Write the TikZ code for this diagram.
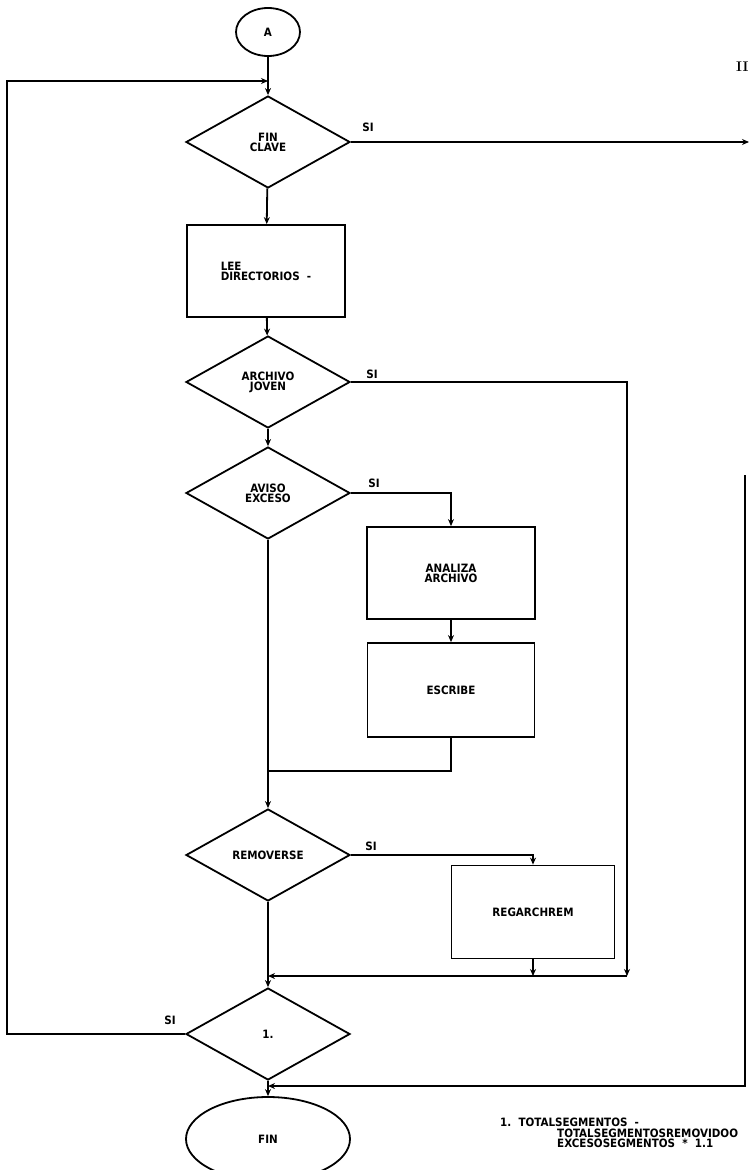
\documentclass[tikz,border=0pt]{standalone}
\usepackage{fontspec}
\newfontfamily\scanfamily{DejaVu Sans Condensed}
\newcommand{\scantext}{\scanfamily\bfseries\fontsize{11.5}{10}\selectfont}
\usetikzlibrary{arrows.meta,shapes.geometric}

\begin{document}
\begin{tikzpicture}[x=1pt,y=-1pt]
\tikzset{
  decision/.style={diamond,draw,line width=1.8pt,minimum width=164pt,minimum height=92pt,aspect=1.8,inner sep=1pt,font=\scantext,align=center},
  process/.style={rectangle,draw,line width=1.8pt,minimum height=92pt,font=\scantext,align=center},
  terminal/.style={ellipse,draw,line width=1.8pt,font=\scantext},
  flow/.style={-{Stealth[length=7pt,width=6pt]},line width=1.8pt},
  link/.style={line width=1.8pt},
  tag/.style={font=\scantext,inner sep=0pt}
}
\useasboundingbox (0,0) rectangle (750,1170);
\node[terminal,minimum width=64pt,minimum height=48pt] (a) at (268,32) {A};
\node[decision] (fc) at (268,142) {FIN\\CLAVE};
\node[process,minimum width=158pt,align=left] (lee) at (266,271) {LEE\\DIRECTORIOS\ \ -};
\node[decision] (aj) at (268,382) {ARCHIVO\\JOVEN};
\node[decision] (ae) at (268,493) {AVISO\\EXCESO};
\node[process,minimum width=168pt] (az) at (451,573) {ANALIZA\\ARCHIVO};
\node[process,minimum width=167pt,minimum height=94pt] (es) at (451,690) {ESCRIBE};
\node[decision] (rm) at (268,855) {REMOVERSE};
\node[process,minimum width=163pt,minimum height=93pt] (rg) at (533,912) {REGARCHREM};
\node[decision] (one) at (268,1034) {1.};
\node[terminal,minimum width=164pt,minimum height=84pt] (fin) at (268,1139) {FIN};
\node[font=\rmfamily\bfseries\fontsize{14}{14}\selectfont,anchor=west,inner sep=0pt] (pg) at (736,67) {II};
\coordinate (jtop) at (268,81);
\coordinate (loopcorner) at (7,81);
\coordinate (outR) at (749,142);
\coordinate (m1) at (268,771);
\coordinate (m2r) at (627,976);
\coordinate (m2l) at (268,976);
\coordinate (inR) at (745,475);
\coordinate (m3) at (268,1086);
\draw[flow] (a) -- (fc);
\draw[flow] (fc) -- (lee);
\draw[flow] (lee) -- (aj);
\draw[flow] (aj) -- (ae);
\draw[flow] (ae) -- (rm);
\draw[flow] (rm) -- (one);
\draw[flow] (one) -- (fin);
\draw[flow] (fc.east) -- (outR);
\draw[flow] (aj.east) -| (m2r);
\draw[flow] (ae.east) -| (az.north);
\draw[flow] (az) -- (es);
\draw[link] (es.south) |- (m1);
\draw[flow] (rm.east) -| (rg.north);
\draw[flow] (rg.south) -- (rg.south |- m2r);
\draw[flow] (m2r) -- (m2l);
\draw[flow] (one.west) -| (loopcorner) -- (jtop);
\draw[flow] (inR) |- (m3);
\node[tag] (si1) at (368,127) {SI};
\node[tag] (si2) at (372,374) {SI};
\node[tag] (si3) at (374,483) {SI};
\node[tag] (si4) at (371,846) {SI};
\node[tag] (si5) at (170,1020) {SI};
\node[tag,anchor=west] (note1) at (500,1122) {1.\ \ TOTALSEGMENTOS \ -};
\node[tag,anchor=west] (note2) at (557,1133) {TOTALSEGMENTOSREMOVIDOO};
\node[tag,anchor=west] (note3) at (557,1143) {EXCESOSEGMENTOS \ * \ 1.1};
\end{tikzpicture}
\end{document}
